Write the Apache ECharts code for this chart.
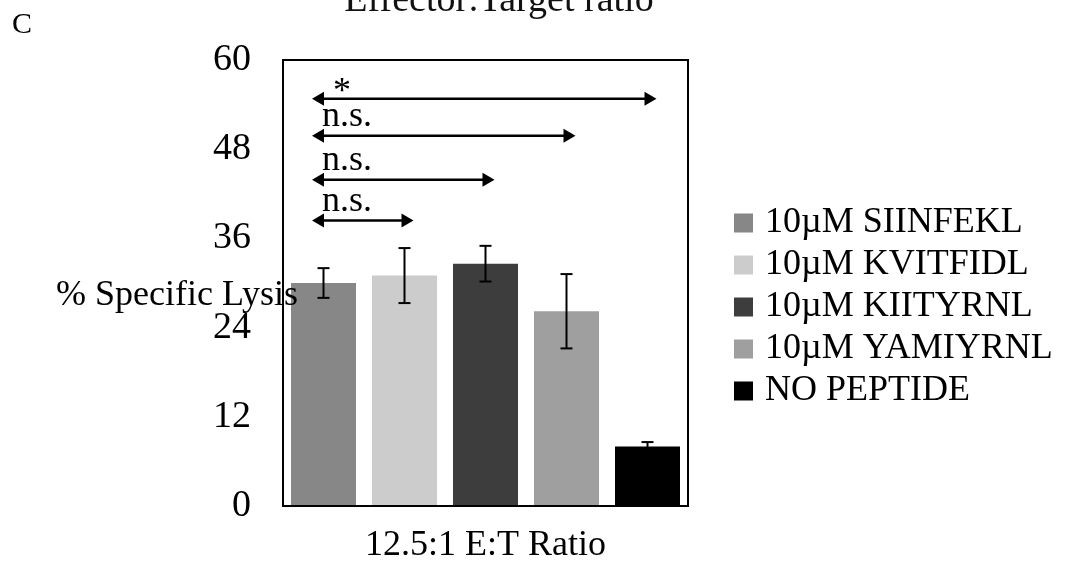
<!DOCTYPE html>
<html>
<head>
<meta charset="utf-8">
<script src="https://cdn.jsdelivr.net/npm/echarts@6/dist/echarts.min.js"></script>
<style>
  html, body { margin: 0; padding: 0; background: #fff; }
  #chart { width: 1070px; height: 569px; }
</style>
</head>
<body>
<div id="chart"></div>
<script>
// Peptide conditions (one bar each) and % specific lysis at 12.5:1 E:T
const peptides = ['10µM SIINFEKL', '10µM KVITFIDL', '10µM KIITYRNL', '10µM YAMIYRNL', 'NO PEPTIDE'];
const lysisMean = [30.0, 31.0, 32.6, 26.2, 8.0];
const lysisErr = [2.0, 3.7, 2.4, 5.0, 0.6];
const barColors = ['#878787', '#cbcccb', '#3d3d3d', '#9e9f9e', '#000000'];

// Significance brackets, all measured against SIINFEKL (index 0)
const compareTo = [4, 3, 2, 1];
const compareLevel = [54.8, 49.8, 43.9, 38.4];
const compareMark = ['*', 'n.s.', 'n.s.', 'n.s.'];

// Axis texts and ticks
const yMin = 0, yMax = 60, yStep = 12;
const xAxisTitle = '12.5:1 E:T Ratio';
const yAxisTitle = '% Specific Lysis';
const chartTitle = 'Effector:Target ratio';
const panelLetter = 'C';

const FONT = '"Liberation Serif", "Times New Roman", Times, serif';

const chart = echarts.init(document.getElementById('chart'), null, { renderer: 'canvas' });

const barSeries = peptides.map((name, i) => ({
  name: name,
  type: 'bar',
  barWidth: 65,
  barGap: '-100%',
  z: 2,
  itemStyle: { color: barColors[i] },
  data: peptides.map((_, j) => (j === i ? lysisMean[i] : '-'))
}));

const errStyle = { stroke: '#000', lineWidth: 2 };
const arrowStyle = { stroke: '#000', lineWidth: 2.5 };

// Error bars: vertical stem with caps at mean ± error
const errorSeries = {
  type: 'custom',
  name: 'sem',
  z: 5,
  silent: true,
  data: lysisMean.map((m, i) => [i, m, lysisErr[i]]),
  encode: { x: 0, y: 1 },
  renderItem: function (params, api) {
    const i = api.value(0), m = api.value(1), e = api.value(2);
    const top = api.coord([i, m + e]);
    const bot = api.coord([i, m - e]);
    const x = top[0], half = 6;
    return {
      type: 'group',
      children: [
        { type: 'line', shape: { x1: x, y1: top[1], x2: x, y2: bot[1] }, style: errStyle },
        { type: 'line', shape: { x1: x - half, y1: top[1], x2: x + half, y2: top[1] }, style: errStyle },
        { type: 'line', shape: { x1: x - half, y1: bot[1], x2: x + half, y2: bot[1] }, style: errStyle }
      ]
    };
  }
};

// Double-headed comparison arrows with their significance marks
const bracketSeries = {
  type: 'custom',
  name: 'brackets',
  z: 6,
  silent: true,
  data: compareTo.map((t, k) => [0, t, compareLevel[k]]),
  encode: { x: [0, 1], y: 2 },
  renderItem: function (params, api) {
    const a = api.coord([api.value(0), api.value(2)]);
    const b = api.coord([api.value(1), api.value(2)]);
    const y = a[1];
    const xl = a[0] - 11.5, xr = b[0] + 9;
    const L = 12, H = 7;
    const mark = compareMark[params.dataIndex];
    const star = mark === '*';
    return {
      type: 'group',
      children: [
        { type: 'line', shape: { x1: xl + L - 1, y1: y, x2: xr - L + 1, y2: y }, style: arrowStyle },
        { type: 'polygon', shape: { points: [[xl, y], [xl + L, y - H], [xl + L, y + H]] }, style: { fill: '#000' } },
        { type: 'polygon', shape: { points: [[xr, y], [xr - L, y - H], [xr - L, y + H]] }, style: { fill: '#000' } },
        {
          type: 'text',
          x: xl + (star ? 21 : 10),
          y: y + (star ? -6 : -19),
          style: { text: mark, fontSize: 36, fontFamily: FONT, fill: '#000', align: 'left', verticalAlign: 'middle' }
        }
      ]
    };
  }
};

chart.setOption({
  animation: false,
  backgroundColor: '#fff',
  grid: {
    left: 283, right: 382, top: 60, bottom: 59,
    show: true, borderColor: '#000', borderWidth: 2, backgroundColor: 'transparent'
  },
  legend: {
    data: peptides,
    orient: 'vertical',
    left: 734,
    top: 205,
    padding: 0,
    icon: 'rect',
    itemWidth: 19,
    itemHeight: 19,
    itemGap: 6,
    selectedMode: false,
    textStyle: { fontSize: 36, fontFamily: FONT, color: '#000', padding: [0, 0, 0, 7] }
  },
  xAxis: {
    type: 'category',
    data: peptides,
    z: 10,
    axisLine: { show: true, lineStyle: { color: '#000', width: 2 } },
    axisTick: { show: false },
    axisLabel: { show: false },
    splitLine: { show: false },
    name: xAxisTitle,
    nameLocation: 'middle',
    nameGap: 22,
    nameTextStyle: { fontSize: 36, fontFamily: FONT, color: '#000' }
  },
  yAxis: {
    type: 'value',
    min: yMin, max: yMax, interval: yStep,
    axisLine: { show: true, lineStyle: { color: '#000', width: 2 } },
    axisTick: { show: false },
    splitLine: { show: false },
    axisLabel: { fontSize: 38, fontFamily: FONT, color: '#000', margin: 32 }
  },
  graphic: [
    { type: 'text', z: 100, x: 12, y: 25,
      style: { text: panelLetter, fontSize: 30, fontFamily: FONT, fill: '#000', align: 'left', verticalAlign: 'middle' } },
    { type: 'text', z: 100, x: 499, y: 1,
      style: { text: chartTitle, fontSize: 38, fontFamily: FONT, fill: '#111', align: 'center', verticalAlign: 'middle' } },
    { type: 'text', z: 100, x: 56, y: 296,
      style: { text: yAxisTitle, fontSize: 36, fontFamily: FONT, fill: '#000', align: 'left', verticalAlign: 'middle' } }
  ],
  series: barSeries.concat([errorSeries, bracketSeries])
});
</script>
</body>
</html>
